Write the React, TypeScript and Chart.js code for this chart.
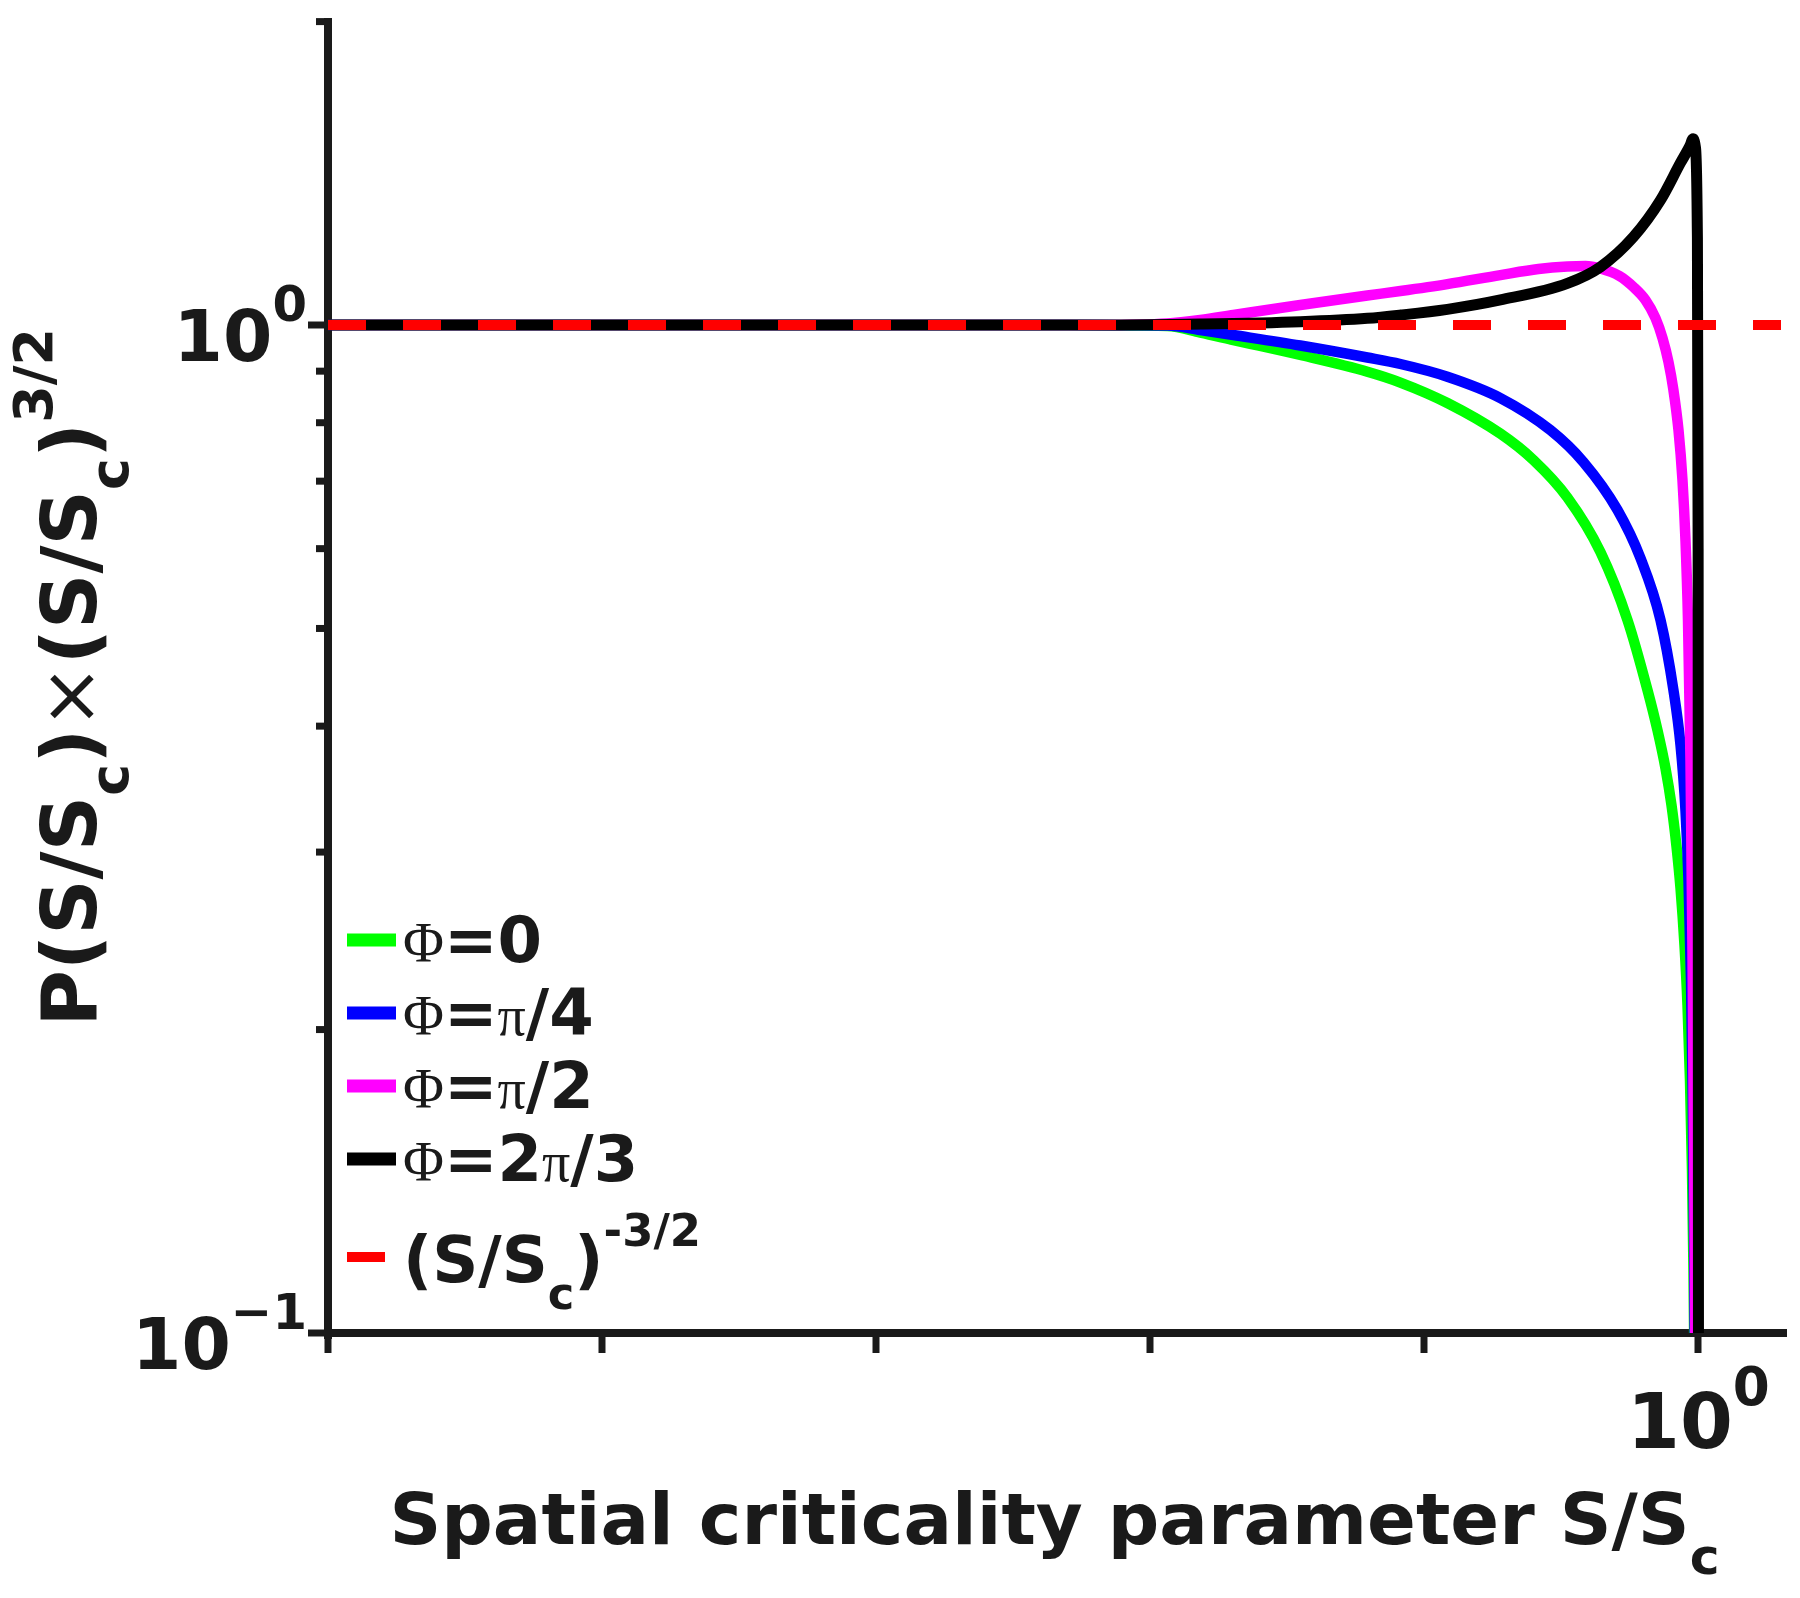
import React, { useEffect, useRef } from "react";
import { Chart, registerables } from "chart.js";

Chart.register(...registerables);

// ---------- data ----------
const X_PHI0 = [1e-5, 1e-4, 1e-3, 0.005, 0.01153, 0.01522, 0.0201, 0.03526, 0.06194, 0.08174, 0.1213, 0.1894, 0.2499, 0.3325, 0.4388, 0.5508, 0.6516, 0.7085, 0.7576, 0.797, 0.8312, 0.8597, 0.889, 0.9118, 0.9311, 0.9469, 0.9588, 0.967];
const Y_PHI0 = [1, 1, 1, 1, 0.9977, 0.983, 0.9663, 0.9338, 0.8988, 0.8769, 0.8369, 0.7802, 0.7347, 0.6744, 0.5954, 0.5097, 0.4344, 0.3964, 0.3635, 0.334, 0.3041, 0.2764, 0.2426, 0.2116, 0.1782, 0.1451, 0.1155, 0.0919];

const X_PI4 = [1e-5, 1e-4, 1e-3, 0.005, 0.01153, 0.01522, 0.0201, 0.03526, 0.06194, 0.08174, 0.1213, 0.1894, 0.2884, 0.3805, 0.5062, 0.6143, 0.7268, 0.8102, 0.8597, 0.8965, 0.9194, 0.9389, 0.9532, 0.9637, 0.971];
const Y_PI4 = [1, 1, 1, 1, 0.9989, 0.9887, 0.9774, 0.9543, 0.9285, 0.9148, 0.8886, 0.8464, 0.7865, 0.7312, 0.6555, 0.5871, 0.5097, 0.4344, 0.3833, 0.3302, 0.2814, 0.224, 0.1703, 0.1237, 0.0898];

const X_PI2 = [1e-5, 1e-4, 1e-3, 0.00654, 0.01153, 0.01522, 0.0201, 0.03526, 0.06194, 0.08174, 0.1213, 0.1894, 0.2607, 0.3325, 0.3869, 0.4388, 0.5148, 0.5791, 0.6405, 0.6966, 0.739, 0.7772, 0.8102, 0.8453, 0.8741, 0.8965, 0.9156, 0.935, 0.9508, 0.9629, 0.9751];
const Y_PI2 = [1, 1, 1, 1, 1.0034, 1.0115, 1.0231, 1.0468, 1.0697, 1.0808, 1.0981, 1.1209, 1.1364, 1.143, 1.1443, 1.1378, 1.1185, 1.0907, 1.0588, 1.0161, 0.9707, 0.919, 0.8619, 0.7866, 0.7019, 0.6118, 0.5097, 0.3703, 0.2399, 0.1519, 0.0898];

const X_2PI3 = [1e-5, 1e-4, 1e-3, 0.00654, 0.01522, 0.03526, 0.06194, 0.08174, 0.1213, 0.1894, 0.3325, 0.4388, 0.5791, 0.7268, 0.8593, 0.93, 0.956, 0.975, 0.99, 0.997, 1.0];
const Y_2PI3 = [1, 1, 1, 1, 1.0023, 1.0076, 1.0154, 1.023, 1.0365, 1.059, 1.1, 1.142, 1.223, 1.33, 1.448, 1.505, 1.53, 1.5, 1.25, 0.6, 0.09];

const X_REF = [1e-5, 2];
const Y_REF = [1, 1];

const SERIES_LABELS = ["Φ=0", "Φ=π/4", "Φ=π/2", "Φ=2π/3", "(S/S_c)^{-3/2}"];
const SERIES_COLORS = ["#00ff00", "#0000ff", "#ff00ff", "#000000", "#ff0000"];

const X_TICKS = [1e-5, 1e-4, 1e-3, 1e-2, 1e-1, 1];
const X_TICK_LABELS = ["", "", "", "", "", "10^{0}"];
const Y_TICKS = [0.1, 0.2, 0.3, 0.4, 0.5, 0.6, 0.7, 0.8, 0.9, 1, 2];
const Y_MAJOR = [0.1, 1];
const Y_MAJOR_LABELS = ["10^{−1}", "10^{0}"];

const X_TITLE = "Spatial criticality parameter S/S_c";
const Y_TITLE = "P(S/S_c)×(S/S_c)^{3/2}";

// ---------- rich text helpers ----------
type Seg = { text: string; mode: number };
function parseRich(s: string): Seg[] {
  const out: Seg[] = [];
  let buf = "";
  let i = 0;
  const flush = () => {
    if (buf) {
      out.push({ text: buf, mode: 0 });
      buf = "";
    }
  };
  while (i < s.length) {
    const ch = s[i];
    if (ch === "_" || ch === "^") {
      flush();
      let t = "";
      if (s[i + 1] === "{") {
        const j = s.indexOf("}", i + 2);
        t = s.slice(i + 2, j);
        i = j + 1;
      } else {
        t = s[i + 1];
        i += 2;
      }
      out.push({ text: t, mode: ch === "_" ? 1 : 2 });
    } else {
      buf += ch;
      i++;
    }
  }
  flush();
  return out;
}

function fontFor(ch: string, size: number) {
  if (ch === "Φ" || ch === "π") return `normal ${Math.round(size * 0.88)}px "Liberation Serif"`;
  if (ch === "×") return `normal ${size}px "DejaVu Sans"`;
  return `bold ${size}px "DejaVu Sans"`;
}

type Run = { text: string; font: string; x: number; dy: number };
function layoutRich(ctx: CanvasRenderingContext2D, s: string, size: number) {
  const runs: Run[] = [];
  let x = 0;
  for (const seg of parseRich(s)) {
    const sz = seg.mode === 0 ? size : size * 0.7;
    const dy = seg.mode === 1 ? size * 0.42 : seg.mode === 2 ? -size * 0.57 : 0;
    let cur = "";
    let curFont = "";
    const push = () => {
      if (!cur) return;
      ctx.font = curFont;
      const w = ctx.measureText(cur).width;
      runs.push({ text: cur, font: curFont, x, dy });
      x += w;
      cur = "";
    };
    for (const ch of seg.text) {
      const f = fontFor(ch, sz);
      if (f !== curFont) push();
      curFont = f;
      cur += ch;
    }
    push();
  }
  return { runs, width: x };
}

function drawRich(ctx: CanvasRenderingContext2D, s: string, size: number, x0: number, baseline: number, align: "left" | "center" | "right", color: string) {
  if (!s) return;
  const { runs, width } = layoutRich(ctx, s, size);
  const start = align === "center" ? x0 - width / 2 : align === "right" ? x0 - width : x0;
  ctx.fillStyle = color;
  ctx.textAlign = "left";
  ctx.textBaseline = "alphabetic";
  for (const r of runs) {
    ctx.font = r.font;
    ctx.fillText(r.text, start + r.x, baseline + r.dy);
  }
}

// ---------- plugins ----------
const decorPlugin = {
  id: "decor",
  afterDraw(chart: any) {
    const ctx: CanvasRenderingContext2D = chart.ctx;
    const area = chart.chartArea;
    const xs = chart.scales.x;
    const ys = chart.scales.y;
    ctx.save();
    // minor y ticks
    ctx.strokeStyle = "#1a1a1a";
    ctx.lineWidth = 7;
    for (const v of Y_TICKS) {
      if (Y_MAJOR.includes(v)) continue;
      const p = ys.getPixelForValue(v);
      ctx.beginPath();
      ctx.moveTo(area.left - 12, p);
      ctx.lineTo(area.left - 3, p);
      ctx.stroke();
    }
    // tick labels (with real superscripts)
    X_TICKS.forEach((v, i) => {
      drawRich(ctx, X_TICK_LABELS[i], 76, xs.getPixelForValue(v), area.bottom + 115, "center", "#1a1a1a");
    });
    Y_MAJOR.forEach((v, i) => {
      drawRich(ctx, Y_MAJOR_LABELS[i], 71, area.left - 21, ys.getPixelForValue(v) + 36, "right", "#1a1a1a");
    });
    // axis titles
    const cx = (area.left + area.right) / 2;
    drawRich(ctx, X_TITLE, 72, cx, 1544, "center", "#1a1a1a");
    const cy = (area.top + area.bottom) / 2;
    ctx.save();
    ctx.translate(96, cy);
    ctx.rotate(-Math.PI / 2);
    drawRich(ctx, Y_TITLE, 77, 0, 0, "center", "#1a1a1a");
    ctx.restore();
    // legend
    const rows = [940, 1013, 1086, 1159, 1257];
    chart.data.datasets.forEach((ds: any, i: number) => {
      const yc = rows[i];
      const dashed = Array.isArray(ds.borderDash) && ds.borderDash.length > 0;
      ctx.strokeStyle = ds.borderColor;
      ctx.lineWidth = dashed ? 10 : 13;
      ctx.lineCap = "butt";
      ctx.beginPath();
      ctx.moveTo(347, yc);
      ctx.lineTo(dashed ? 385 : 396, yc);
      ctx.stroke();
      drawRich(ctx, ds.label, 64, 403, yc + (dashed ? 25 : 22), "left", "#1a1a1a");
    });
    ctx.restore();
  },
};

function makeSeries(xs: number[], ys: number[]) {
  return xs.map((x, i) => ({ x, y: ys[i] }));
}

export default function App() {
  const ref = useRef<HTMLCanvasElement | null>(null);
  useEffect(() => {
    if (!ref.current) return;
    const series = [
      makeSeries(X_PHI0, Y_PHI0),
      makeSeries(X_PI4, Y_PI4),
      makeSeries(X_PI2, Y_PI2),
      makeSeries(X_2PI3, Y_2PI3),
      makeSeries(X_REF, Y_REF),
    ];
    const orders = [5, 4, 3, 2, 1];
    const widths = [10.5, 10.5, 10.5, 11, 10];
    const datasets = series.map((data, i) => ({
      label: SERIES_LABELS[i],
      data,
      borderColor: SERIES_COLORS[i],
      backgroundColor: SERIES_COLORS[i],
      borderWidth: widths[i],
      pointRadius: 0,
      fill: false,
      order: orders[i],
      cubicInterpolationMode: "monotone" as const,
      borderJoinStyle: "round" as const,
      borderDash: i === 4 ? [38, 37] : [],
    }));
    const tickFont = { family: "DejaVu Sans", weight: "bold" as const, size: 66 };
    const chart = new Chart(ref.current, {
      type: "line",
      data: { datasets },
      options: {
        animation: false,
        responsive: false,
        devicePixelRatio: 1,
        layout: { padding: { left: 0, top: 21.6, right: 19, bottom: 0 } },
        plugins: { legend: { display: false }, tooltip: { enabled: false } },
        scales: {
          x: {
            type: "logarithmic",
            min: 1e-5,
            max: 2,
            position: "bottom",
            afterBuildTicks: (s: any) => {
              s.ticks = X_TICKS.map((v) => ({ value: v }));
            },
            afterFit: (s: any) => {
              s.height = 265;
              s.paddingLeft = 0;
              s.paddingRight = 0;
            },
            ticks: {
              autoSkip: false,
              maxRotation: 0,
              minRotation: 0,
              padding: 28,
              color: "#1a1a1a",
              font: tickFont,
              callback: () => "",
            },
            grid: {
              display: true,
              drawOnChartArea: false,
              drawTicks: true,
              tickLength: 20,
              tickWidth: 7,
              tickColor: "#1a1a1a",
              lineWidth: 12,
            },
            border: { display: true, width: 8, color: "#1a1a1a" },
          },
          y: {
            type: "logarithmic",
            min: 0.1,
            max: 2,
            position: "left",
            afterBuildTicks: (s: any) => {
              s.ticks = Y_TICKS.map((v) => ({ value: v }));
            },
            afterFit: (s: any) => {
              s.width = 328;
              s.paddingTop = 0;
              s.paddingBottom = 0;
            },
            ticks: {
              autoSkip: false,
              padding: 2,
              color: "#1a1a1a",
              font: tickFont,
              callback: () => "",
            },
            grid: {
              display: true,
              drawOnChartArea: false,
              drawTicks: true,
              tickLength: 20,
              tickWidth: 7,
              tickColor: (c: any) => (c.tick && Y_MAJOR.includes(c.tick.value) ? "#1a1a1a" : "rgba(0,0,0,0)"),
              lineWidth: 12,
            },
            border: { display: true, width: 8, color: "#1a1a1a" },
          },
        },
      },
      plugins: [decorPlugin],
    });
    return () => chart.destroy();
  }, []);
  return (
    <div style={{ position: "absolute", left: 0, top: 0, width: 1800, height: 1598, background: "#ffffff" }}>
      <canvas ref={ref} width={1800} height={1598} style={{ display: "block", width: 1800, height: 1598 }} />
    </div>
  );
}
